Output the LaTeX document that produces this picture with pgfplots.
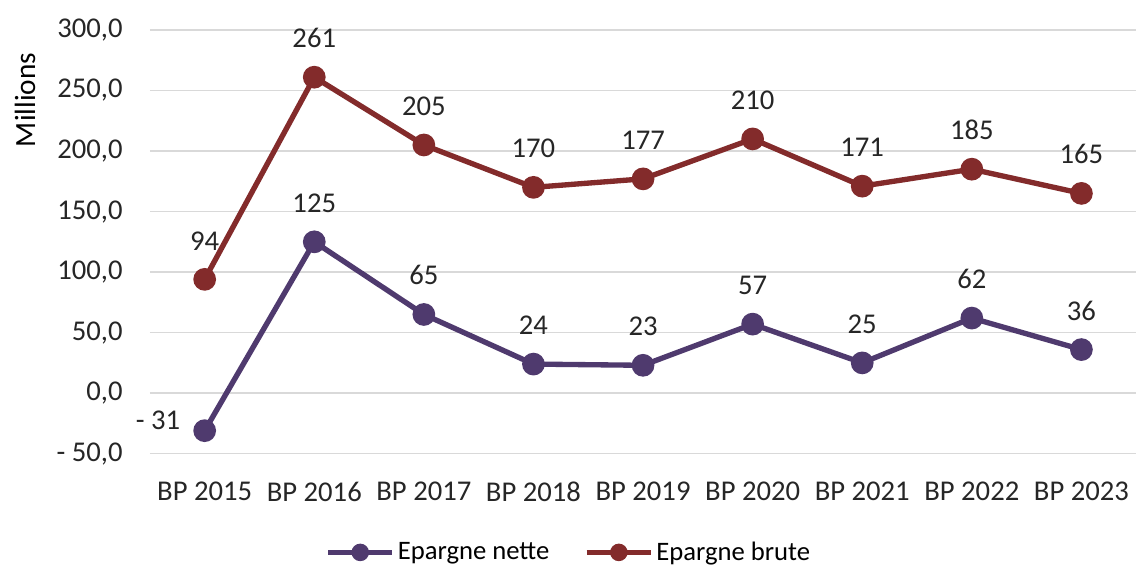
\documentclass[border=0pt]{standalone}
\usepackage{pgfplots}
\pgfplotsset{compat=1.18}
\usepackage{fontspec}
\setmainfont{Carlito}
\usetikzlibrary{calc}
\definecolor{nette}{HTML}{4F3A6E}
\definecolor{brute}{HTML}{832B2B}
\definecolor{gridc}{HTML}{D9D9D9}
\begin{document}
\begin{tikzpicture}
\begin{axis}[
  width=740.25pt, height=318pt, scale only axis,
  xmin=-0.5, xmax=8.5, ymin=-50, ymax=300,
  xtick={0,...,8},
  xticklabels={BP 2015,BP 2016,BP 2017,BP 2018,BP 2019,BP 2020,BP 2021,BP 2022,BP 2023},
  ytick={-50,0,50,100,150,200,250,300},
  yticklabels={{- 50,0},{0,0},{50,0},{100,0},{150,0},{200,0},{250,0},{300,0}},
  ymajorgrids, grid style={gridc, line width=1.2pt},
  axis line style={draw=none},
  major tick length=0pt,
  tick label style={font=\fontsize{21.5}{25}\selectfont, text=black!85},
  xticklabel style={yshift=-18pt},
  yticklabel style={xshift=-17pt},
  ylabel={Millions},
  ylabel style={font=\fontsize{22}{26}\selectfont, at={(ticklabel cs:0.835)}, yshift=9pt},
  clip=false,
  legend style={at={(0.425,-0.233)}, anchor=center, draw=none, fill=none,
    font=\fontsize{20}{24}\selectfont, legend columns=2,
    /tikz/every even column/.append style={column sep=24pt}},
  legend image code/.code={\draw[mark repeat=2,mark phase=2,mark options={scale=0.7}] plot coordinates {(0cm,0cm) (0.85cm,0cm) (1.7cm,0cm)};},
  nodes near coords,
  point meta=explicit symbolic,
  every node near coord/.append style={font=\fontsize{21.5}{25}\selectfont, text=black!85, anchor=south, inner sep=0pt, yshift=20pt},
]
\addplot[nette, line width=4pt, mark=*, mark size=6.5pt,
  mark options={solid},
  coordinate style/.condition={\coordindex==0}{anchor=east, xshift=-35pt, yshift=-21pt}]
  table[meta=lab] {
x y lab
0 -31 {- 31}
1 125 125
2 65 65
3 24 24
4 23 23
5 57 57
6 25 25
7 62 62
8 36 36
};
\addlegendentry{Epargne nette}
\addplot[brute, line width=4pt, mark=*, mark size=6.5pt, mark options={solid}]
  table[meta=lab] {
x y lab
0 94 94
1 261 261
2 205 205
3 170 170
4 177 177
5 210 210
6 171 171
7 185 185
8 165 165
};
\addlegendentry{Epargne brute}
\end{axis}
\path[use as bounding box] ($(current axis.south west)+(-112.5pt,-86.25pt)$) rectangle ($(current axis.north east)+(0pt,22.5pt)$);
\end{tikzpicture}
\end{document}
